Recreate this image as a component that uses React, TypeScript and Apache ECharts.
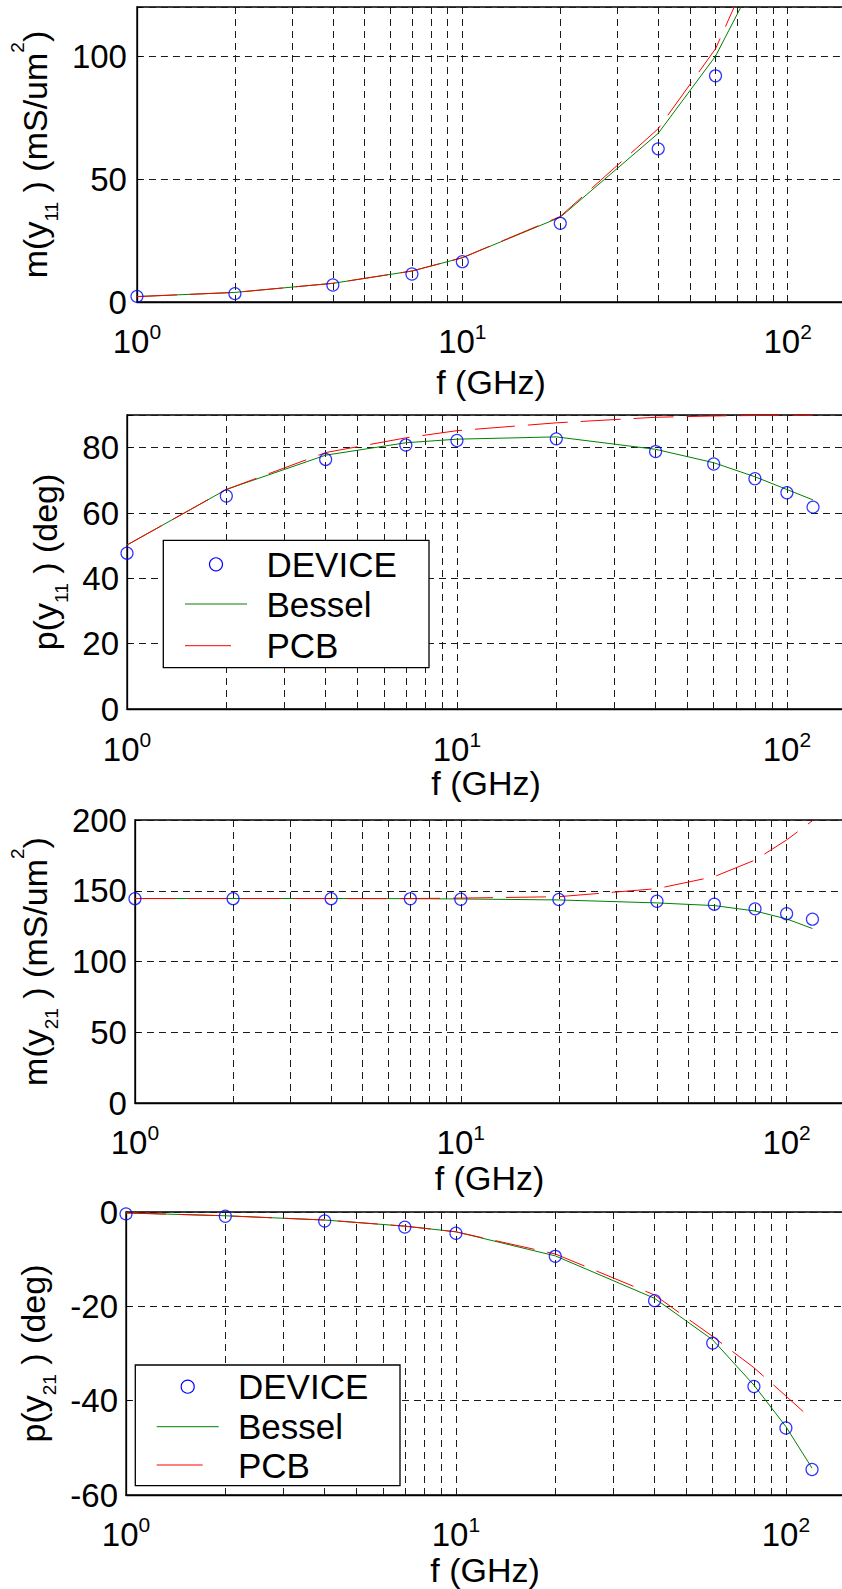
import React, { useEffect, useRef } from 'react';
import * as echarts from 'echarts';

const FONT = "'Liberation Sans', Arial, Helvetica, sans-serif";

// Frequencies (GHz)
const freqDeviceMagY11 = [1, 2, 4, 7, 10, 20, 40, 60];
const freq = [1, 2, 4, 7, 10, 20, 40, 60, 80, 100, 120];
const gridFreqs = [2, 3, 4, 5, 6, 7, 8, 9, 10, 20, 30, 40, 50, 60, 70, 80, 90, 100];
const xTickExponents = [0, 1, 2];

// Panel 1: m(y11) (mS/um^2)
const magY11Device = [2.3, 3.4, 6.9, 11.4, 16.4, 32.0, 62.3, 92.0];
const magY11Bessel = [2.2, 3.9, 7.6, 12.6, 18.0, 34.5, 68.6, 100.0, 132.0, 170.0, 210.0];
const magY11Pcb = [2.2, 3.9, 7.6, 12.6, 18.0, 34.8, 70.5, 103.0, 140.0, 185.0, 230.0];
const magY11Ticks = [0, 50, 100];

// Panel 2: p(y11) (deg)
const phaseY11Device = [47.7, 65.2, 76.4, 80.8, 82.2, 82.7, 78.8, 75.0, 70.5, 66.2, 61.8];
const phaseY11Bessel = [50.2, 67.2, 77.7, 81.5, 82.6, 83.3, 79.5, 75.4, 71.1, 67.2, 64.0];
const phaseY11Pcb = [50.2, 67.2, 78.5, 83.0, 85.2, 87.6, 89.3, 89.7, 89.85, 89.9, 89.9];
const phaseY11Ticks = [0, 20, 40, 60, 80];

// Panel 3: m(y21) (mS/um^2)
const magY21Device = [144.4, 144.4, 144.4, 144.3, 144.0, 143.8, 142.6, 140.5, 137.2, 133.8, 129.9];
const magY21Bessel = [144.5, 144.5, 144.5, 144.4, 144.2, 143.5, 141.4, 139.5, 135.7, 130.1, 123.3];
const magY21Pcb = [144.5, 144.5, 144.5, 144.5, 144.8, 145.8, 151.5, 160.0, 171.7, 185.9, 199.5];
const magY21Ticks = [0, 50, 100, 150, 200];

// Panel 4: p(y21) (deg)
const phaseY21Device = [-0.4, -0.9, -1.9, -3.2, -4.5, -9.4, -18.8, -27.8, -37.0, -45.8, -54.6];
const phaseY21Bessel = [-0.2, -0.8, -1.7, -3.0, -4.2, -9.3, -18.3, -27.1, -36.7, -45.5, -54.3];
const phaseY21Pcb = [-0.2, -0.8, -1.7, -3.0, -4.2, -8.9, -17.6, -26.4, -33.0, -39.0, -44.0];
const phaseY21Ticks = [-60, -40, -20, 0];

const legendNames = ['DEVICE', 'Bessel', 'PCB'];
const xName = 'f (GHz)';

const zip = (xs: number[], ys: number[]) => xs.map((x, i) => [x, ys[i]]);

const panels = [
  {
    grid: { left: 127, top: 7, height: 295 },
    y: { min: 0, max: 120, interval: 50, ticks: magY11Ticks, margin: 10, nameGap: 65 },
    yName: '{t|m(y}{sub|11}{t| ) (mS/um}{sup|2}{t|)}',
    xLabelMargin: 19, xNameGap: 63,
    dev: zip(freqDeviceMagY11, magY11Device), bes: zip(freq, magY11Bessel), pcb: zip(freq, magY11Pcb),
  },
  {
    grid: { left: 127, top: 415, height: 294 },
    y: { min: 0, max: 90, interval: 20, ticks: phaseY11Ticks, margin: 8, nameGap: 44 },
    yName: '{t|p(y}{sub|11}{t| ) (deg)}',
    xLabelMargin: 20, xNameGap: 56,
    dev: zip(freq, phaseY11Device), bes: zip(freq, phaseY11Bessel), pcb: zip(freq, phaseY11Pcb),
  },
  {
    grid: { left: 126, top: 820, height: 283 },
    y: { min: 0, max: 200, interval: 50, ticks: magY21Ticks, margin: 8, nameGap: 64 },
    yName: '{t|m(y}{sub|21}{t| ) (mS/um}{sup|2}{t|)}',
    xLabelMargin: 19, xNameGap: 57.5,
    dev: zip(freq, magY21Device), bes: zip(freq, magY21Bessel), pcb: zip(freq, magY21Pcb),
  },
  {
    grid: { left: 126, top: 1212, height: 283 },
    y: { min: -60, max: 0, interval: 20, ticks: phaseY21Ticks, margin: 8, nameGap: 56 },
    yName: '{t|p(y}{sub|21}{t| ) (deg)}',
    xLabelMargin: 19, xNameGap: 57.5,
    dev: zip(freq, phaseY21Device), bes: zip(freq, phaseY21Bessel), pcb: zip(freq, phaseY21Pcb),
  },
];

const CHART_W = 860;
const PLOT_W = 718;
const gridLineStyle = { color: '#1a1a1a', type: [7, 5] as any, width: 1 };

function legendGraphic(x: number, y: number, w: number, h: number, iconX: number, textX: number, rows: number[]) {
  const iconCx = iconX + 31;
  return [
    { type: 'rect', z: 100, shape: { x, y, width: w, height: h }, style: { fill: '#fff', stroke: '#000', lineWidth: 1.3 } },
    { type: 'circle', z: 101, shape: { cx: iconCx, cy: rows[0], r: 6.5 }, style: { fill: 'none', stroke: '#0000ff', lineWidth: 1.2 } },
    { type: 'line', z: 101, shape: { x1: iconX, y1: rows[1], x2: iconX + 62, y2: rows[1] }, style: { stroke: '#008000', lineWidth: 1 } },
    { type: 'line', z: 101, shape: { x1: iconX, y1: rows[2], x2: iconX + 46, y2: rows[2] }, style: { stroke: '#ff0000', lineWidth: 1 } },
    ...legendNames.map((n, i) => ({
      type: 'text', z: 101, x: textX, y: rows[i],
      style: { text: n, fontSize: 35, fontFamily: FONT, fill: '#000', align: 'left', verticalAlign: 'middle' },
    })),
  ];
}

export default function App() {
  const ref = useRef<HTMLDivElement>(null);
  useEffect(() => {
    if (!ref.current) return;
    const chart = echarts.init(ref.current, undefined, { renderer: 'svg' });
    const option: any = {
      animation: false,
      backgroundColor: '#fff',
      grid: panels.map((p) => ({
        left: p.grid.left, top: p.grid.top, height: p.grid.height,
        right: CHART_W - p.grid.left - PLOT_W,
        show: true, borderColor: '#000', borderWidth: 1.3, backgroundColor: 'transparent',
      })),
      xAxis: panels.map((p, i) => ({
        gridIndex: i, type: 'log', logBase: 10, min: 1, max: 150,
        axisLine: { show: true, onZero: false, lineStyle: { color: '#000', width: 1.3 } },
        axisTick: { show: false },
        splitLine: { show: false },
        axisLabel: {
          margin: p.xLabelMargin,
          formatter: (v: number) => {
            const l = Math.log10(v);
            const e = Math.round(l);
            if (Math.abs(l - e) > 1e-6 || !xTickExponents.includes(e)) return '';
            return `{b|10}{s|${e}}`;
          },
          rich: {
            b: { fontSize: 33, lineHeight: 40, verticalAlign: 'middle', fontFamily: FONT, color: '#000' },
            s: { fontSize: 21, lineHeight: 5, verticalAlign: 'top', fontFamily: FONT, color: '#000' },
          },
        },
        name: xName, nameLocation: 'middle', nameGap: p.xNameGap,
        nameTextStyle: { fontSize: 34, fontFamily: FONT, color: '#000' },
      })),
      yAxis: panels.map((p, i) => ({
        gridIndex: i, type: 'value', min: p.y.min, max: p.y.max, interval: p.y.interval,
        axisLine: { show: true, onZero: false, lineStyle: { color: '#000', width: 1.3 } },
        axisTick: { show: true, inside: true, length: 5, lineStyle: { color: '#000' } },
        axisLabel: {
          color: '#000', fontSize: 33, fontFamily: FONT, margin: p.y.margin,
          formatter: (v: number) => (p.y.ticks.includes(v) ? String(v) : ''),
        },
        splitLine: { show: true, lineStyle: gridLineStyle },
        name: p.yName, nameLocation: 'middle', nameRotate: 90, nameGap: p.y.nameGap,
        nameTextStyle: {
          fontFamily: FONT, color: '#000',
          rich: {
            t: { fontSize: 34, lineHeight: 53, verticalAlign: 'middle', fontFamily: FONT, color: '#000' },
            sub: { fontSize: 19, lineHeight: 10, verticalAlign: 'bottom', fontFamily: FONT, color: '#000' },
            sup: { fontSize: 19, lineHeight: 20, verticalAlign: 'top', fontFamily: FONT, color: '#000' },
          },
        },
      })),
      series: panels.flatMap((p, i) => [
        {
          type: 'line', xAxisIndex: i, yAxisIndex: i, data: [], silent: true, z: 1,
          markLine: {
            silent: true, z: 1, symbol: ['none', 'none'], label: { show: false },
            lineStyle: gridLineStyle, emphasis: { disabled: true },
            data: gridFreqs.map((f) => ({ xAxis: f })),
          },
        },
        {
          name: legendNames[0], type: 'scatter', xAxisIndex: i, yAxisIndex: i, data: p.dev, z: 4,
          symbol: 'circle', symbolSize: 12,
          itemStyle: { color: 'rgba(0,0,0,0)', borderColor: '#0000ff', borderWidth: 1.2 },
        },
        {
          name: legendNames[1], type: 'line', xAxisIndex: i, yAxisIndex: i, data: p.bes, z: 2,
          symbol: 'none', showSymbol: false, lineStyle: { color: '#008000', width: 1 },
        },
        {
          name: legendNames[2], type: 'line', xAxisIndex: i, yAxisIndex: i, data: p.pcb, z: 3,
          symbol: 'none', showSymbol: false, lineStyle: { color: '#ff0000', width: 1, type: [40, 13] },
        },
      ]),
      graphic: [
        ...legendGraphic(163.3, 540.3, 265.7, 127.4, 185, 266.5, [564.3, 604, 645.7]),
        ...legendGraphic(135.3, 1365, 264.7, 120.7, 156.7, 238, [1386.7, 1426.7, 1465]),
      ],
    };
    chart.setOption(option);
    return () => chart.dispose();
  }, []);
  return (
    <div style={{ position: 'absolute', left: 0, top: 0, width: 842, height: 1589, overflow: 'hidden', background: '#fff' }}>
      <div ref={ref} style={{ width: CHART_W, height: 1589 }} />
    </div>
  );
}
